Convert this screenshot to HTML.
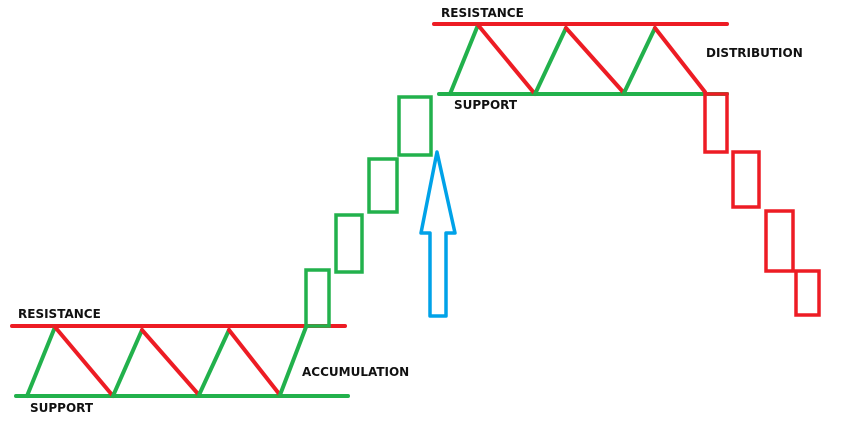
<!DOCTYPE html>
<html><head><meta charset="utf-8"><style>
html,body{margin:0;padding:0;background:#fff;}
svg{display:block;}
text{font-family:"DejaVu Sans","Liberation Sans",sans-serif;font-weight:bold;font-size:12px;fill:#111;}
</style></head><body>
<svg width="854" height="426" viewBox="0 0 854 426">
<g stroke-linecap="round" stroke-width="4" fill="none">
  <line x1="12" y1="326" x2="345" y2="326" stroke="#ed1c24"/>
  <line x1="16" y1="396" x2="348" y2="396" stroke="#22b14c"/>
  <g>
    <line x1="27" y1="396" x2="55" y2="327" stroke="#22b14c"/>
    <line x1="55" y1="327" x2="113" y2="396" stroke="#ed1c24"/>
    <line x1="113" y1="396" x2="142" y2="330" stroke="#22b14c"/>
    <line x1="142" y1="330" x2="199" y2="395" stroke="#ed1c24"/>
    <line x1="199" y1="395" x2="229" y2="330" stroke="#22b14c"/>
    <line x1="229" y1="330" x2="280" y2="395" stroke="#ed1c24"/>
    <line x1="280" y1="395" x2="306" y2="327" stroke="#22b14c"/>
  </g>
  <line x1="434" y1="24" x2="727" y2="24" stroke="#ed1c24"/>
  <line x1="439" y1="94" x2="727" y2="94" stroke="#22b14c"/>
  <g>
    <line x1="450" y1="94" x2="478" y2="25" stroke="#22b14c"/>
    <line x1="478" y1="25" x2="535" y2="94" stroke="#ed1c24"/>
    <line x1="535" y1="94" x2="566" y2="28" stroke="#22b14c"/>
    <line x1="566" y1="28" x2="624" y2="93" stroke="#ed1c24"/>
    <line x1="624" y1="93" x2="655" y2="28" stroke="#22b14c"/>
    <line x1="655" y1="28" x2="705" y2="92" stroke="#ed1c24"/>
  </g>
</g>
<g fill="none" stroke-width="3.5">
  <rect x="306" y="270" width="23" height="56" stroke="#22b14c"/>
  <rect x="336" y="215" width="26" height="57" stroke="#22b14c"/>
  <rect x="369" y="159" width="28" height="53" stroke="#22b14c"/>
  <rect x="399" y="97" width="32" height="58" stroke="#22b14c"/>
  <rect x="705" y="94" width="22" height="58" stroke="#ed1c24"/>
  <rect x="733" y="152" width="26" height="55" stroke="#ed1c24"/>
  <rect x="766" y="211" width="27" height="60" stroke="#ed1c24"/>
  <rect x="796" y="271" width="23" height="44" stroke="#ed1c24"/>
  <polygon points="437,152 455,233 446,233 446,316 430,316 430,233 421,233" stroke="#00a2e8" stroke-linejoin="round"/>
</g>
<text x="441" y="17">RESISTANCE</text>
<text x="454" y="109">SUPPORT</text>
<text x="706" y="57">DISTRIBUTION</text>
<text x="18" y="318">RESISTANCE</text>
<text x="302" y="376">ACCUMULATION</text>
<text x="30" y="412">SUPPORT</text>
</svg>
</body></html>
